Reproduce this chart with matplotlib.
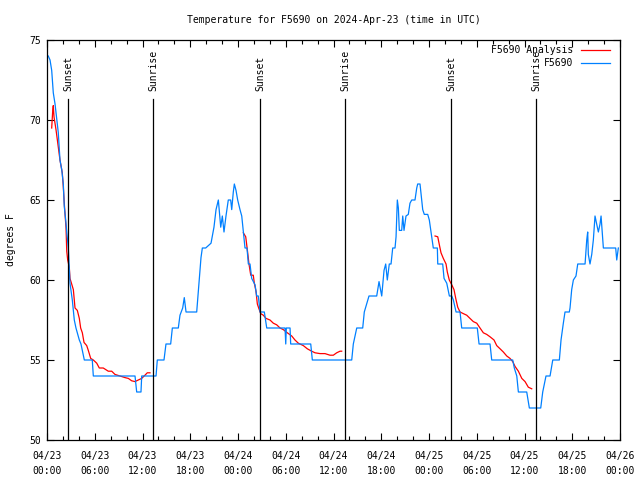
import numpy as np
import matplotlib
matplotlib.use("Agg")
import matplotlib.pyplot as plt
import matplotlib.dates as mdates
from datetime import datetime, timedelta

plt.rcParams['font.family'] = ['DejaVu Sans Mono']
plt.rcParams['font.size'] = 7

start = datetime(2024, 4, 23, 0, 0)

# observed F5690 temps, hours since 04/23 00:00 UTC
obs_hours = [0.16, 0.38, 0.59, 0.79, 1.01, 1.42, 1.63, 1.85, 2.05, 2.17, 2.35, 2.48, 2.68, 2.89,
             3.18, 3.43, 3.64, 4.06, 4.27, 4.69, 5.69, 5.82, 11.06, 11.27, 11.81, 11.90, 13.70,
             13.86, 14.70, 14.95, 15.54, 15.75, 16.50, 16.71, 17.05, 17.25, 17.47, 18.81, 19.01,
             19.35, 19.52, 19.94, 20.61, 20.98, 21.24, 21.53, 21.83, 22.03, 22.24, 22.49, 22.78,
             23.08, 23.21, 23.41, 23.54, 23.75, 23.96, 24.25, 24.47, 24.67, 24.88, 25.13, 25.30,
             25.51, 25.72, 26.14, 26.35, 26.55, 26.77, 27.31, 27.61, 29.91, 30.00, 30.07, 30.54,
             30.62, 33.14, 33.34, 38.29, 38.49, 38.92, 39.67, 39.87, 40.17, 40.46, 41.43, 41.72,
             42.06, 42.35, 42.56, 42.76, 43.01, 43.23, 43.44, 43.73, 43.86, 44.02, 44.15, 44.27,
             44.57, 44.70, 44.86, 45.11, 45.40, 45.61, 45.83, 46.24, 46.46, 46.58, 46.87, 47.00,
             47.21, 47.41, 47.84, 48.04, 48.34, 48.54, 49.05, 49.10, 49.72, 49.89, 50.23, 50.56,
             50.86, 51.06, 51.40, 51.90, 52.11, 54.07, 54.29, 55.67, 55.88, 58.52, 58.72, 59.03,
             59.23, 60.28, 60.61, 62.04, 62.29, 62.70, 63.21, 63.55, 64.38, 64.59, 64.88, 65.09,
             65.63, 65.72, 65.93, 66.14, 66.47, 66.69, 67.61, 67.82, 67.94, 68.02, 68.23, 68.45,
             68.65, 68.86, 69.07, 69.28, 69.49, 69.62, 69.83, 69.91, 71.46, 71.59, 71.79]
obs_temps = [74.0, 73.75, 73.1, 71.7, 71.0, 69.2, 67.5, 66.9, 66.0, 64.6, 63.75, 63.0, 62.0, 59.8,
             58.75, 57.5, 57.0, 56.25, 56.0, 55.0, 55.0, 54.0, 54.0, 53.0, 53.0, 54.0, 54.0,
             55.0, 55.0, 56.0, 56.0, 57.0, 57.0, 57.8, 58.25, 58.9, 58.0, 58.0, 59.25,
             61.4, 62.0, 62.0, 62.3, 63.3, 64.4, 65.0, 63.3, 64.0, 63.0, 64.0, 65.0,
             65.0, 64.4, 65.5, 66.0, 65.6, 65.0, 64.4, 64.0, 63.0, 62.0, 62.0, 61.0,
             61.0, 60.1, 59.7, 59.0, 59.0, 58.0, 58.0, 57.0, 57.0, 56.0, 57.0, 57.0,
             56.0, 56.0, 55.0, 55.0, 56.0, 57.0, 57.0, 58.0, 58.5, 59.0, 59.0, 59.9,
             59.0, 60.6, 61.0, 60.0, 61.0, 61.0, 62.0, 62.0, 62.7, 65.0, 64.5, 63.1,
             63.1, 64.0, 63.1, 64.0, 64.1, 64.8, 65.0, 65.0, 65.75, 66.0, 66.0, 65.4,
             64.4, 64.1, 64.1, 63.75, 62.7, 62.0, 62.0, 61.0, 61.0, 60.1, 59.8, 59.0,
             59.0, 58.75, 58.0, 58.0, 57.0, 57.0, 56.0, 56.0, 55.0, 55.0, 54.5, 54.0,
             53.0, 53.0, 52.0, 52.0, 53.0, 54.0, 54.0, 55.0, 55.0, 56.25, 57.3, 58.0,
             58.0, 58.25, 59.4, 60.0, 60.25, 61.0, 61.0, 62.5, 63.0, 61.6, 61.0, 61.6,
             62.5, 64.0, 63.5, 63.0, 63.5, 64.0, 62.5, 62.0, 62.0, 61.25, 62.0]

# analysis segments (one per night)
ana1_hours = [0.59, 0.72, 0.79, 0.88, 1.13, 1.42, 1.63, 1.92, 2.05, 2.17, 2.39, 2.48, 2.60, 2.80,
              2.89, 3.31, 3.52, 3.81, 4.06, 4.23, 4.44, 4.65, 4.99, 5.19, 5.49, 5.82, 6.25, 6.57,
              7.07, 7.70, 8.13, 8.54, 9.17, 9.80, 10.22, 10.64, 11.06, 11.47, 11.90, 12.31, 12.60,
              12.94]
ana1_temps = [69.5, 70.6, 70.9, 70.2, 69.4, 68.3, 67.5, 66.7, 65.8, 64.8, 63.25, 61.8, 61.25, 60.8,
              60.1, 59.4, 58.25, 58.1, 57.6, 57.0, 56.7, 56.1, 55.9, 55.6, 55.1, 55.0, 54.8, 54.5,
              54.5, 54.3, 54.3, 54.1, 54.0, 53.9, 53.85, 53.7, 53.65, 53.75, 53.85, 54.05, 54.2,
              54.2]
ana2_hours = [24.67, 24.97, 25.17, 25.38, 25.60, 25.92, 26.05, 26.26, 26.43, 26.60, 26.85, 27.18,
              27.52, 28.02, 28.44, 28.86, 29.28, 29.69, 30.20, 30.75, 31.16, 31.58, 32.21, 32.71,
              33.26, 33.68, 34.31, 34.93, 35.56, 35.98, 36.40, 36.82, 37.03]
ana2_temps = [62.95, 62.7, 61.9, 61.0, 60.3, 60.3, 59.8, 59.3, 58.5, 58.25, 57.9, 57.8,
              57.6, 57.5, 57.3, 57.2, 57.0, 56.9, 56.7, 56.5, 56.25, 56.05, 55.9, 55.7,
              55.55, 55.45, 55.4, 55.4, 55.3, 55.3, 55.45, 55.55, 55.55]
ana3_hours = [48.76, 49.10, 49.30, 49.51, 49.80, 50.14, 50.30, 50.55, 50.86, 51.14, 51.36, 51.61,
              51.90, 52.31, 52.74, 53.15, 53.57, 54.00, 54.41, 54.83, 55.25, 55.67, 56.17, 56.51,
              56.93, 57.34, 57.77, 58.18, 58.52, 58.81, 59.23, 59.66, 60.07, 60.48, 60.91]
ana3_temps = [62.75, 62.7, 62.2, 61.7, 61.35, 61.0, 60.5, 60.0, 59.7, 59.4, 58.85, 58.3,
              58.0, 57.9, 57.8, 57.6, 57.4, 57.3, 57.0, 56.7, 56.6, 56.45, 56.25, 55.9,
              55.7, 55.5, 55.25, 55.1, 54.9, 54.6, 54.3, 53.85, 53.65, 53.3, 53.2]

sun_hours = [2.68, 13.36, 26.80, 37.48, 50.81, 61.50]
sun_labels = ["Sunset", "Sunrise", "Sunset", "Sunrise", "Sunset", "Sunrise"]


def to_dates(hours):
    return [start + timedelta(hours=h) for h in hours]


fig = plt.figure(figsize=(6.4, 4.8), dpi=100)
ax = fig.add_axes([47 / 640, 40 / 480, 573 / 640, 400 / 480])

red = '#ff0000'
blue = '#0080ff'

ax.plot(to_dates(ana1_hours), ana1_temps, color=red, lw=0.9, label='F5690 Analysis')
ax.plot(to_dates(ana2_hours), ana2_temps, color=red, lw=0.9)
ax.plot(to_dates(ana3_hours), ana3_temps, color=red, lw=0.9)
ax.plot(to_dates(obs_hours), obs_temps, color=blue, lw=0.9, label='F5690')

for h, lab in zip(sun_hours, sun_labels):
    d = to_dates([h])[0]
    ax.plot([d, d], [50, 71.3], color='black', lw=0.9)
    ax.text(d, 71.8, lab, rotation=90, ha='center', va='bottom', fontsize=7)

ax.set_xlim(start, start + timedelta(hours=72))
ax.set_ylim(50, 75)
ax.set_yticks([50, 55, 60, 65, 70, 75])
ax.xaxis.set_major_locator(mdates.HourLocator(byhour=[0, 6, 12, 18]))
ax.xaxis.set_minor_locator(mdates.HourLocator(interval=2))
ax.xaxis.set_major_formatter(mdates.DateFormatter('%m/%d\n%H:%M'))
ax.tick_params(which='both', direction='in', top=True, right=True, width=0.8)
ax.tick_params(which='major', length=5, pad=8)
ax.tick_params(which='minor', length=3)
ax.tick_params(axis='y', pad=4)
for s in ax.spines.values():
    s.set_linewidth(0.9)

ax.set_ylabel('degrees F', labelpad=10)
fig.text(333.5 / 640, 1 - 20 / 480, 'Temperature for F5690 on 2024-Apr-23 (time in UTC)',
         ha='center', va='center', fontsize=7)

ax.legend(loc='upper right', bbox_to_anchor=(0.9825, 0.9875), frameon=False,
          handlelength=3.0, handletextpad=0.8, borderaxespad=0, borderpad=0,
          labelspacing=0.35, markerfirst=False, fontsize=7)

fig.canvas.draw()
plt.setp(ax.get_xticklabels(), linespacing=1.6)

fig.savefig('out.png', dpi=100)
